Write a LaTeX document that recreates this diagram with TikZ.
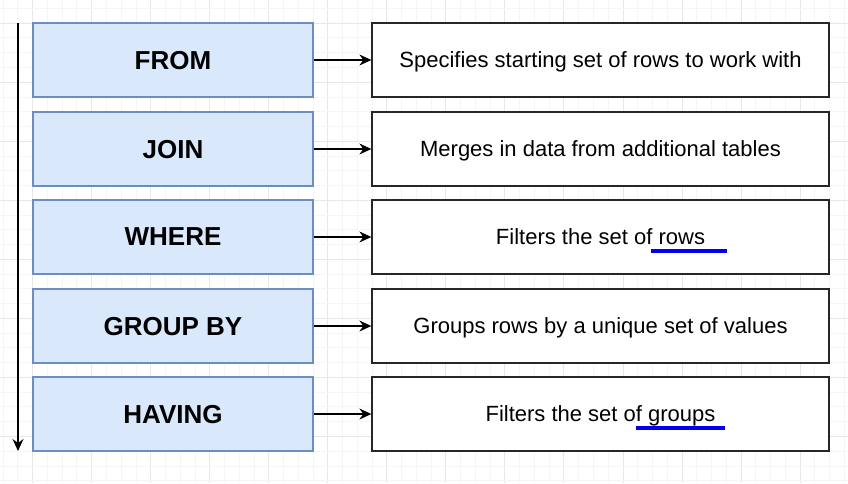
\documentclass[tikz,border=0pt]{standalone}
\usepackage{fontspec}
\setmainfont{Liberation Sans}
\usetikzlibrary{arrows.meta}
\definecolor{kwfill}{HTML}{DAE8FC}
\definecolor{kwdraw}{HTML}{6C8EBF}
\definecolor{ulblue}{HTML}{0000F0}
\tikzset{
  kwbox/.style={draw=kwdraw, fill=kwfill, line width=1.3pt, minimum width=280pt, minimum height=74pt, inner sep=0pt, text depth=0pt, font=\fontsize{26}{30}\selectfont\bfseries},
  descbox/.style={draw=black!85, fill=white, line width=1.3pt, minimum width=457pt, minimum height=74pt, inner sep=0pt, text depth=0pt, font=\fontsize{22}{26}\selectfont},
  conn/.style={line width=1.2pt, -{Stealth[length=12pt,width=11pt,inset=4pt]}},
  ul/.style={ulblue, line width=3.5pt},
  gridminor/.style={color=black!4, line width=0.6pt},
  gridmajor/.style={color=black!9, line width=0.8pt}
}
\begin{document}
\begin{tikzpicture}[x=1pt,y=-1pt]
\useasboundingbox (0,0) rectangle (848,483);
\fill[white] (0,0) rectangle (848,483);
% grid
\foreach \i in {-3,...,55} {
  \pgfmathsetmacro\xx{32.5+\i*14.76}
  \pgfmathtruncatemacro\m{mod(\i+100,4)}
  \ifnum\m=0
    \draw[gridmajor] (\xx,0) -- (\xx,483);
  \else
    \draw[gridminor] (\xx,0) -- (\xx,483);
  \fi
}
\foreach \i in {-2,...,33} {
  \pgfmathsetmacro\yy{23+\i*14.76}
  \pgfmathtruncatemacro\m{mod(\i+100,4)}
  \ifnum\m=0
    \draw[gridmajor] (0,\yy) -- (848,\yy);
  \else
    \draw[gridminor] (0,\yy) -- (848,\yy);
  \fi
}
% keyword boxes
\node[kwbox] (from)   at (173,60)  {FROM};
\node[kwbox] (join)   at (173,149) {JOIN};
\node[kwbox] (where)  at (173,237) {WHERE};
\node[kwbox] (group)  at (173,326) {GROUP BY};
\node[kwbox] (having) at (173,414) {HAVING};
% description boxes
\node[descbox] (dfrom)   at (600.5,60)  {Specifies starting set of rows to work with};
\node[descbox] (djoin)   at (600.5,149) {Merges in data from additional tables};
\node[descbox] (dwhere)  at (600.5,237) {Filters the set of rows};
\node[descbox] (dgroup)  at (600.5,326) {Groups rows by a unique set of values};
\node[descbox] (dhaving) at (600.5,414) {Filters the set of groups};
% connectors
\draw[conn] (from.east) -- (dfrom.west);
\draw[conn] (join.east) -- (djoin.west);
\draw[conn] (where.east) -- (dwhere.west);
\draw[conn] (group.east) -- (dgroup.west);
\draw[conn] (having.east) -- (dhaving.west);
% order arrow
\coordinate (otop) at (18,23);
\coordinate (obot) at (18,451);
\draw[conn] (otop) -- (obot);
% blue underlines
\coordinate (u1a) at (651,251);
\coordinate (u1b) at (727,251);
\coordinate (u2a) at (636,428);
\coordinate (u2b) at (725,428);
\draw[ul] (u1a) -- (u1b);
\draw[ul] (u2a) -- (u2b);
\end{tikzpicture}
\end{document}
